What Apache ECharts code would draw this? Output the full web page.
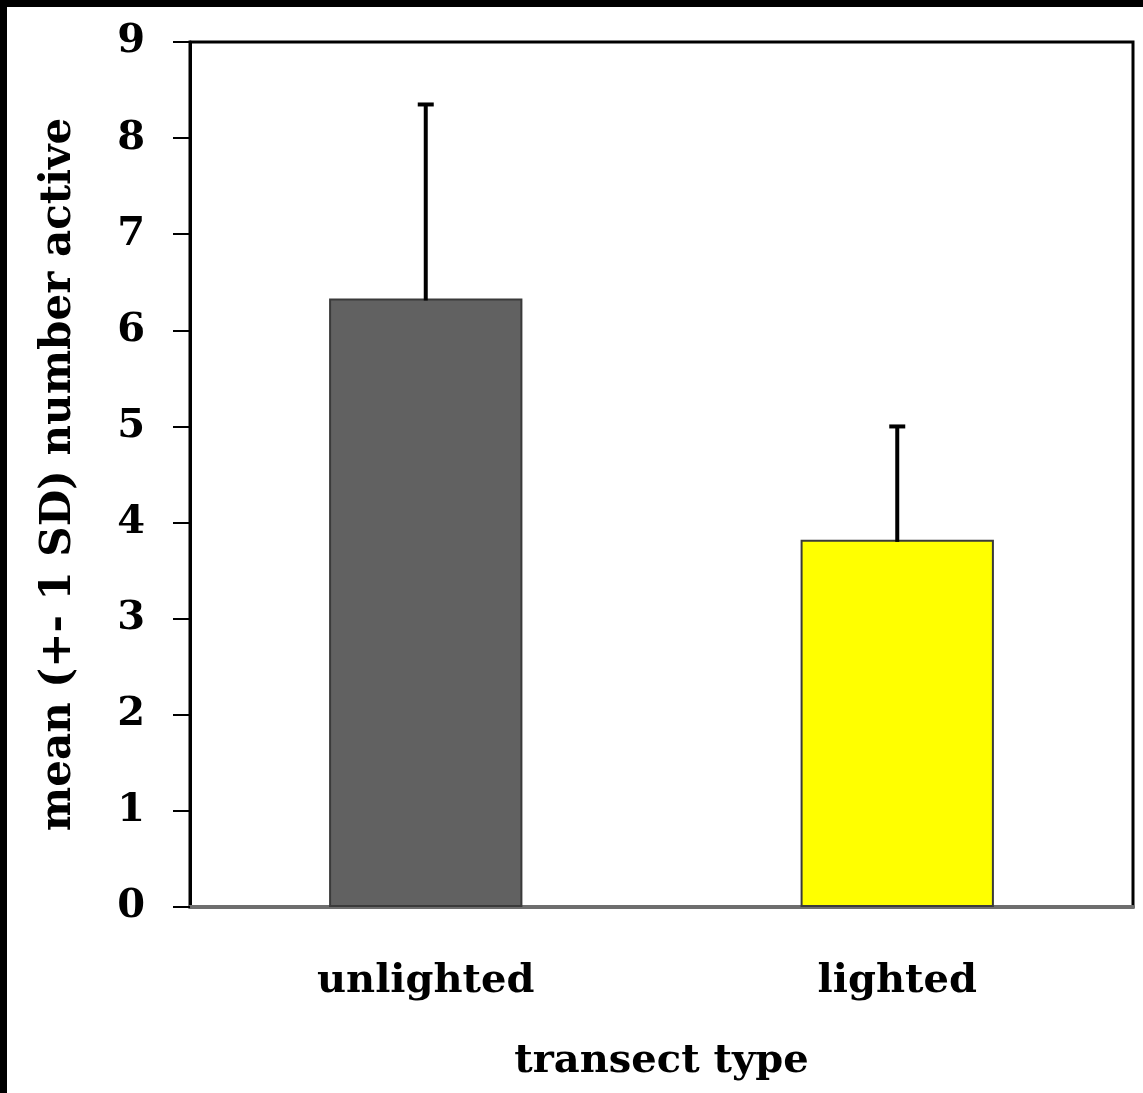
<!DOCTYPE html>
<html>
<head>
<meta charset="utf-8">
<script src="https://cdn.jsdelivr.net/npm/echarts@6/dist/echarts.min.js"></script>
<style>
  html, body { margin: 0; padding: 0; background: #fff; }
  #chart { width: 1143px; height: 1093px; }
</style>
</head>
<body>
<div id="chart"></div>
<script>
  // values
  const categories = ["unlighted", "lighted"];
  const means = [6.33, 3.82];
  const sdUpper = [8.35, 5.0];
  const barColors = ["#616161", "#ffff00"];
  const yTicks = [0, 1, 2, 3, 4, 5, 6, 7, 8, 9];

  const font = "DejaVu Serif";
  const chart = echarts.init(document.getElementById("chart"));

  chart.setOption({
    animation: false,
    backgroundColor: "#fff",
    graphic: [
      // black strips along top and left edge of the image
      { type: "rect", left: 0, top: 0, shape: { width: 1143, height: 7 }, style: { fill: "#000" } },
      { type: "rect", left: 0, top: 0, shape: { width: 7, height: 1093 }, style: { fill: "#000" } },
    ],
    grid: {
      left: 190,
      top: 42,
      right: 10,
      bottom: 186,
      outerBoundsMode: "none",
      show: true,
      borderColor: "#000",
      borderWidth: 3,
      backgroundColor: "#fff",
    },
    xAxis: {
      type: "category",
      data: categories,
      axisTick: { show: false },
      axisLine: { lineStyle: { color: "#6e6e6e", width: 4 } },
      axisLabel: {
        margin: 55,
        color: "#000",
        fontFamily: font,
        fontWeight: "bold",
        fontSize: 40,
      },
      name: "transect type",
      nameLocation: "middle",
      nameGap: 135,
      nameTextStyle: {
        color: "#000",
        fontFamily: font,
        fontWeight: "bold",
        fontSize: 40,
      },
    },
    yAxis: {
      type: "value",
      min: yTicks[0],
      max: yTicks[yTicks.length - 1],
      interval: 1,
      splitLine: { show: false },
      axisLine: { show: true, lineStyle: { color: "#000", width: 3 } },
      axisTick: { show: true, length: 17, lineStyle: { color: "#000", width: 2 } },
      axisLabel: {
        margin: 45,
        color: "#000",
        fontFamily: font,
        fontWeight: "bold",
        fontSize: 40,
      },
      name: "mean (+- 1 SD) number active",
      nameLocation: "middle",
      nameGap: 110,
      nameTextStyle: {
        color: "#000",
        fontFamily: font,
        fontWeight: "bold",
        fontSize: 42,
      },
    },
    series: [
      {
        type: "bar",
        barWidth: "41%",
        data: means.map((v, i) => ({
          value: v,
          itemStyle: { color: barColors[i] },
        })),
        itemStyle: {
          borderColor: "#3a3a3a",
          borderWidth: 2,
        },
        z: 2,
      },
      {
        type: "custom",
        z: 3,
        data: means.map((v, i) => [i, v, sdUpper[i]]),
        renderItem: (params, api) => {
          const base = api.coord([api.value(0), api.value(1)]);
          const top = api.coord([api.value(0), api.value(2)]);
          const capHalf = 8;
          return {
            type: "group",
            children: [
              {
                type: "line",
                shape: { x1: base[0], y1: base[1] + 2, x2: top[0], y2: top[1] },
                style: { stroke: "#000", lineWidth: 4 },
              },
              {
                type: "line",
                shape: { x1: top[0] - capHalf, y1: top[1], x2: top[0] + capHalf, y2: top[1] },
                style: { stroke: "#000", lineWidth: 4 },
              },
            ],
          };
        },
      },
    ],
  });
</script>
</body>
</html>
